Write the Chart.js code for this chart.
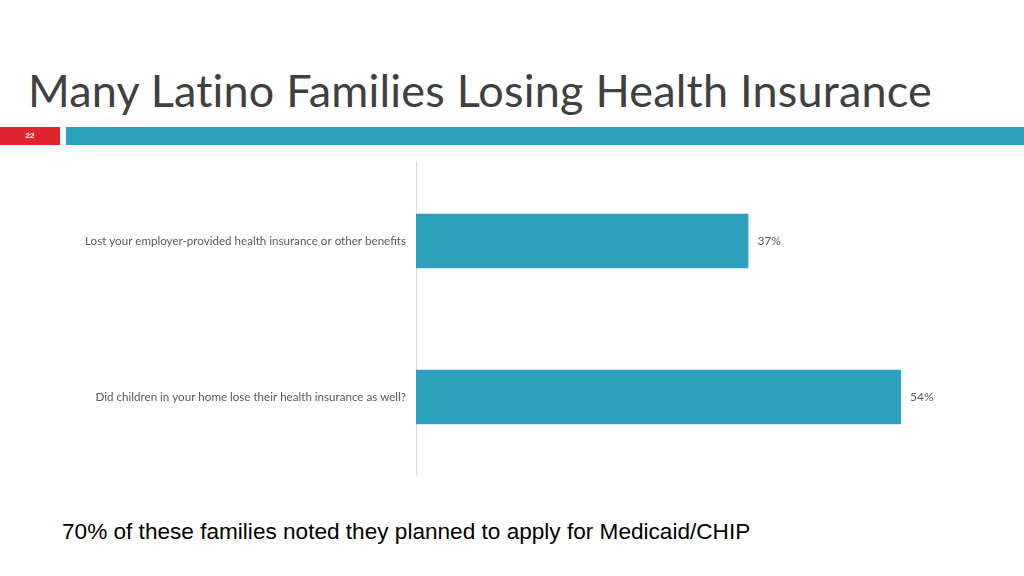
<!DOCTYPE html>
<html><head><meta charset="utf-8">
<script src="https://cdn.jsdelivr.net/npm/chart.js@4"></script>
<style>
html,body{margin:0;padding:0;background:#fff;width:1024px;height:576px;overflow:hidden;position:relative;font-family:"Open Sans",sans-serif}
#title{position:absolute;left:28px;top:63px;font-family:"Lato","Open Sans",sans-serif;font-size:45px;color:#404040;white-space:nowrap;letter-spacing:0.2px}
#num{position:absolute;left:0;top:127px;width:60px;height:18px;background:#E0242E;color:#fff;font-size:8px;font-weight:bold;line-height:18px;text-align:center;font-family:"Liberation Sans",sans-serif}
#band{position:absolute;left:66px;top:127px;width:958px;height:18px;background:#2CA1BD}
#foot{position:absolute;left:62px;top:519px;font-family:"Liberation Sans",Arial,sans-serif;font-size:22.6px;color:#000}
#wrap{position:absolute;left:0;top:146px;width:1024px;height:346px}
</style></head><body>
<div id="title">Many Latino Families Losing Health Insurance</div>
<div id="num">22</div>
<div id="band"></div>
<div id="wrap"><canvas id="c"></canvas></div>
<div id="foot">70% of these families noted they planned to apply for Medicaid/CHIP</div>
<script>
const categories = ["Lost your employer-provided health insurance or other benefits", "Did children in your home lose their health insurance as well?"];
const values = [37, 54];
const valueLabels = ["37%", "54%"];

const labelPlugin = {
  id: 'vals',
  afterDatasetsDraw(chart) {
    const ctx = chart.ctx;
    const meta = chart.getDatasetMeta(0);
    ctx.save();
    ctx.font = '12px "Lato", "Open Sans", sans-serif';
    ctx.fillStyle = '#595959';
    ctx.textAlign = 'left';
    ctx.textBaseline = 'middle';
    meta.data.forEach((bar, i) => {
      ctx.fillText(valueLabels[i], bar.x + 9, bar.y);
    });
    ctx.restore();
  }
};

new Chart(document.getElementById('c'), {
  type: 'bar',
  data: {
    labels: categories,
    datasets: [{ data: values, backgroundColor: '#2CA1BD', barPercentage: 0.35, categoryPercentage: 1.0 }]
  },
  options: {
    indexAxis: 'y',
    responsive: true,
    maintainAspectRatio: false,
    animation: false,
    layout: { padding: { top: 8, bottom: 10, right: 69, left: 0 } },
    plugins: { legend: { display: false }, tooltip: { enabled: false } },
    scales: {
      x: { display: false, min: 0, max: 60 },
      y: {
        afterFit(s) { s.width = 416; },
        grid: { display: false, drawTicks: false },
        border: { display: true, color: '#D9D9D9', width: 1 },
        ticks: { color: '#595959', padding: 10, font: { size: 11.6, family: '"Lato", "Open Sans", sans-serif' } }
      }
    }
  },
  plugins: [labelPlugin]
});
</script>
</body></html>
